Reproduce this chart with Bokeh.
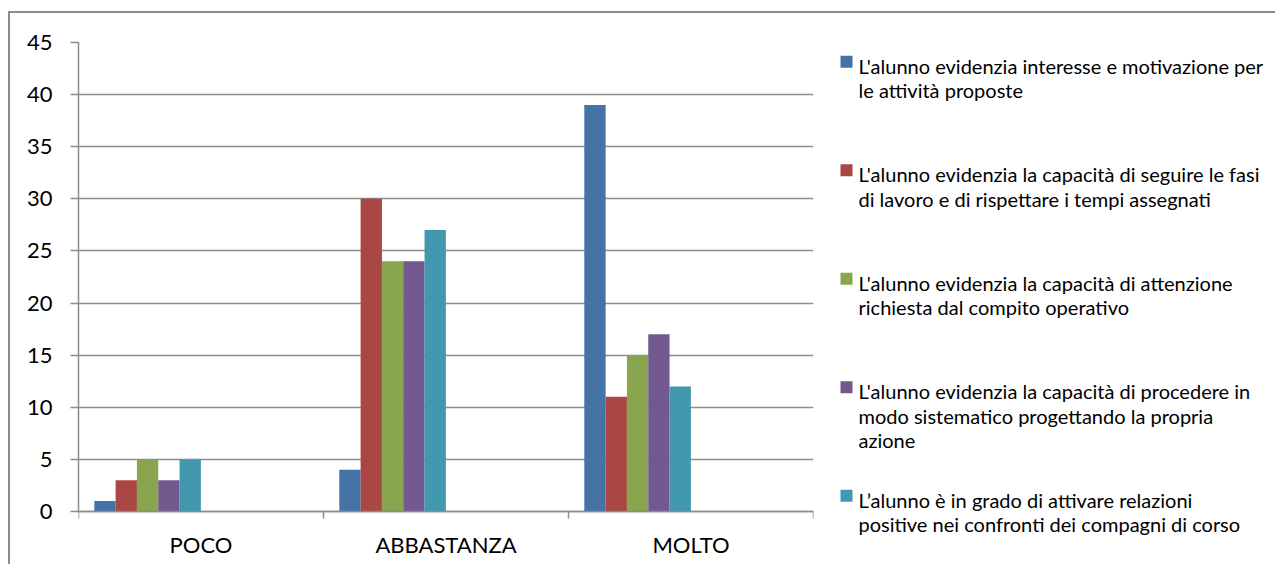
from bokeh.plotting import figure
from bokeh.models import (FactorRange, Range1d, LinearAxis, CategoricalAxis,
                          FixedTicker, ColumnDataSource, LabelSet)
from bokeh.transform import dodge
from bokeh.layouts import row
from bokeh.embed import file_html
from bokeh.resources import INLINE
from bokeh.core.properties import value

# ---------------- data ----------------
categories = ["POCO", "ABBASTANZA", "MOLTO"]

series_labels = [
    "L'alunno evidenzia interesse e motivazione per\nle attività proposte",
    "L'alunno evidenzia la capacità di seguire le fasi\ndi lavoro e di rispettare i tempi assegnati",
    "L'alunno evidenzia la capacità di attenzione\nrichiesta dal compito operativo",
    "L'alunno evidenzia la capacità di procedere in\nmodo sistematico progettando la propria\nazione",
    "L’alunno è in grado di  attivare relazioni\npositive nei confronti dei compagni di corso",
]

interesse = [1, 4, 39]
fasi = [3, 30, 11]
attenzione = [5, 24, 15]
procedere = [3, 24, 17]
relazioni = [5, 27, 12]

y_ticks = [0, 5, 10, 15, 20, 25, 30, 35, 40, 45]

# ---------------- styles / layout ----------------
colors = ["#4572A7", "#AA4643", "#89A54E", "#71588F", "#4198AF"]
GRID = "#8c8c8c"
FONT = "Lato"
BORDER = "2px solid #8c8c8c"

H = 553
TOP, BOTTOM = 29, 8
PAGE_TOP = 13                     # canvas top on the page
FRAME_TOP = PAGE_TOP + TOP        # = position of the top value
FRAME_BOTTOM = PAGE_TOP + H - BOTTOM
ZERO_PX = 511                     # page y of value 0
px_per_unit = (ZERO_PX - FRAME_TOP) / y_ticks[-1]
y_start = -(FRAME_BOTTOM - ZERO_PX) / px_per_unit

series_keys = ["interesse", "fasi", "attenzione", "procedere", "relazioni"]
source = ColumnDataSource(dict(cat=categories, interesse=interesse, fasi=fasi,
                               attenzione=attenzione, procedere=procedere,
                               relazioni=relazioni))

p = figure(x_range=FactorRange(factors=categories, range_padding=0, factor_padding=0),
           y_range=Range1d(y_start, y_ticks[-1]),
           width=820, height=H,
           min_border_left=68, min_border_right=17,
           min_border_top=TOP, min_border_bottom=BOTTOM,
           x_axis_location=None,
           output_backend="svg", toolbar_location=None)
p.styles = {"border-left": BORDER, "border-top": BORDER,
            "margin-top": "11px", "margin-left": "8px"}
p.outline_line_color = None
p.background_fill_color = "white"
p.border_fill_color = "white"
p.xgrid.visible = False

# y axis + grid
yax = p.yaxis[0]
yax.ticker = FixedTicker(ticks=y_ticks)
yax.bounds = (0, y_ticks[-1])
yax.major_tick_out = 8
yax.major_tick_in = 0
yax.minor_tick_out = 0
yax.minor_tick_in = 0
yax.axis_line_color = GRID
yax.axis_line_width = 1.5
yax.major_tick_line_color = GRID
yax.major_tick_line_width = 1.5
yax.major_label_text_font = FONT
yax.major_label_text_font_size = "22px"
yax.major_label_text_color = "black"
yax.major_label_standoff = 18
p.ygrid.ticker = FixedTicker(ticks=y_ticks)
p.ygrid.grid_line_color = GRID
p.ygrid.grid_line_width = 1.5

# category boundary ticks (synthetic coordinates 0..N of the factor range), at y = 0
bax = LinearAxis(ticker=FixedTicker(ticks=list(range(len(categories) + 1))),
                 fixed_location=0,
                 major_tick_out=7, major_tick_in=0,
                 minor_tick_out=0, minor_tick_in=0,
                 axis_line_color=GRID, axis_line_width=1.5,
                 major_tick_line_color=GRID, major_tick_line_width=1.5,
                 major_label_text_font_size="1px",
                 major_label_text_color=None,
                 major_label_standoff=0)
p.add_layout(bax, "below")

cax = CategoricalAxis(fixed_location=0,
                      axis_line_color=None, major_tick_line_color=None,
                      major_tick_out=0, major_tick_in=0,
                      major_label_text_font=FONT,
                      major_label_text_font_size="22px",
                      major_label_text_color="black",
                      major_label_standoff=19)
p.add_layout(cax, "below")

# bars
bar_w = 0.087
first_off = -0.392
for i, key in enumerate(series_keys):
    p.vbar(x=dodge("cat", first_off + i * bar_w, range=p.x_range), top=key,
           width=bar_w, source=source, fill_color=colors[i], line_color=None)

# ---------------- legend panel (coordinates = page pixels) ----------------
LX0, LW = 830, 447
lg = figure(x_range=Range1d(LX0, LX0 + LW),
            y_range=Range1d(FRAME_BOTTOM, FRAME_TOP),
            width=LW, height=H,
            min_border_left=0, min_border_right=0,
            min_border_top=TOP, min_border_bottom=BOTTOM,
            x_axis_location=None, y_axis_location=None,
            output_backend="svg", toolbar_location=None)
lg.styles = {"border-top": BORDER, "margin-top": "11px"}
lg.outline_line_color = None
lg.xgrid.visible = False
lg.ygrid.visible = False

base0 = 73.3      # baseline of first legend line
slot = 108.5      # vertical slot per legend entry
line_h = 24.5     # line spacing
text_x = 860
marker_x = 848

tx, ty, tt = [], [], []
mx, my, mc = [], [], []
for i, lab in enumerate(series_labels):
    b = base0 + i * slot
    mx.append(marker_x)
    my.append(b - 12)
    mc.append(colors[i])
    for j, line in enumerate(lab.split("\n")):
        tx.append(text_x)
        ty.append(b + j * line_h)
        tt.append(line)

lg.scatter(x=mx, y=my, marker="square", size=12, fill_color=mc, line_color=None)
lg.add_layout(LabelSet(x="x", y="y", text="text",
                       source=ColumnDataSource(dict(x=tx, y=ty, text=tt)),
                       text_font=value(FONT), text_font_size="20px",
                       text_color="black", text_baseline="alphabetic",
                       text_align="left"))

layout = row(p, lg)
open("out.html", "w").write(file_html(layout, INLINE))
